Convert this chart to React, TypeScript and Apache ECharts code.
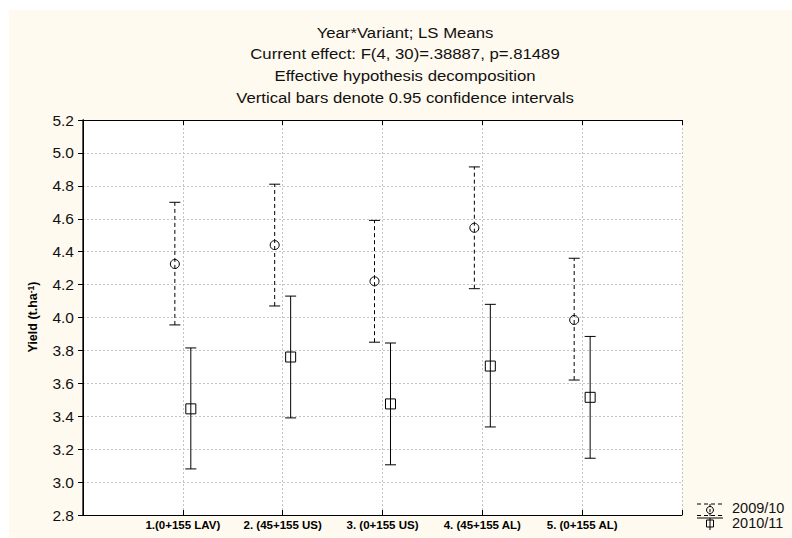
import React, { useEffect, useRef } from "react";
import * as echarts from "echarts";

const categories = ["1.(0+155 LAV)", "2. (45+155 US)", "3. (0+155 US)", "4. (45+155 AL)", "5. (0+155 AL)"];
const yTicks = [2.8, 5.2, 0.2]; // min, max, step
const s1Name = "2009/10";
const s1Mean = [4.325, 4.44, 4.22, 4.545, 3.985];
const s1Low = [3.955, 4.07, 3.85, 4.175, 3.62];
const s1High = [4.7, 4.81, 4.59, 4.915, 4.36];
const s2Name = "2010/11";
const s2Mean = [3.445, 3.76, 3.475, 3.705, 3.515];
const s2Low = [3.08, 3.39, 3.105, 3.335, 3.145];
const s2High = [3.815, 4.13, 3.845, 4.08, 3.885];
const titleLines = [
  "Year*Variant; LS Means",
  "Current effect: F(4, 30)=.38887, p=.81489",
  "Effective hypothesis decomposition",
  "Vertical bars denote 0.95 confidence intervals",
];

const FONT = "'Liberation Sans', Arial, sans-serif";
const OFFSET = 0.08;

function errorSeries(name: string, low: number[], high: number[], off: number, dashed: boolean) {
  return {
    type: "custom",
    name,
    z: 2,
    data: low.map((l, i) => [i + 1 + off, l, high[i]]),
    renderItem: (params: any, api: any) => {
      const x = api.value(0);
      const p1 = api.coord([x, api.value(1)]);
      const p2 = api.coord([x, api.value(2)]);
      const hw = 5.5;
      return {
        type: "group",
        children: [
          {
            type: "line",
            shape: { x1: p1[0], y1: p1[1], x2: p2[0], y2: p2[1] },
            style: { stroke: "#000", lineWidth: 1, lineDash: dashed ? [4, 3] : null },
          },
          { type: "line", shape: { x1: p1[0] - hw, y1: p1[1], x2: p1[0] + hw, y2: p1[1] }, style: { stroke: "#000", lineWidth: 1 } },
          { type: "line", shape: { x1: p2[0] - hw, y1: p2[1], x2: p2[0] + hw, y2: p2[1] }, style: { stroke: "#000", lineWidth: 1 } },
        ],
      };
    },
  };
}

function markerSeries(name: string, mean: number[], off: number, symbol: string, size: number) {
  return {
    type: "scatter",
    name,
    z: 3,
    symbol,
    symbolSize: size,
    data: mean.map((m, i) => [i + 1 + off, m]),
    itemStyle: { color: "rgba(255,255,255,0)", borderColor: "#000", borderWidth: 1, opacity: 1 },
  };
}

export default function App() {
  const ref = useRef<HTMLDivElement>(null);
  useEffect(() => {
    if (!ref.current) return;
    const chart = echarts.init(ref.current, undefined, { renderer: "svg" });
    const gridLine = { show: true, lineStyle: { color: "#c4c4c4", type: [2, 2] as any, width: 1 } };
    const axisLine = { show: true, lineStyle: { color: "#000", width: 1 } };
    const xBase = { type: "value", min: 0, max: 6, interval: 1 };
    const yBase = { type: "value", min: yTicks[0], max: yTicks[1], interval: yTicks[2] };
    chart.setOption({
      animation: false,
      backgroundColor: "#fffaef",
      textStyle: { fontFamily: FONT },
      grid: { left: 74, right: 110, top: 110, bottom: 23, show: true, backgroundColor: "#fff", borderWidth: 0 },
      xAxis: [
        {
          ...xBase,
          position: "bottom",
          axisLine,
          axisTick: { show: true, inside: true, length: 5, lineStyle: { color: "#000" } },
          axisLabel: {
            margin: 4,
            fontSize: 11.5,
            fontWeight: "bold",
            color: "#000",
            fontFamily: FONT,
            formatter: (v: number) => categories[Math.round(v) - 1] ?? "",
          },
          splitLine: gridLine,
        },
        {
          ...xBase,
          position: "top",
          axisLine,
          axisTick: { show: true, inside: true, length: 5, lineStyle: { color: "#000" } },
          axisLabel: { show: false },
          splitLine: { show: false },
        },
      ],
      yAxis: [
        {
          ...yBase,
          position: "left",
          axisLine: { show: true, lineStyle: { color: "#222", width: 1.5 } },
          axisTick: { show: true, inside: false, length: 5, lineStyle: { color: "#000" } },
          axisLabel: {
            margin: 9,
            fontSize: 15.5,
            color: "#111",
            fontFamily: FONT,
            formatter: (v: number) => v.toFixed(1),
          },
          splitLine: gridLine,
        },
        {
          ...yBase,
          position: "right",
          axisLine,
          axisTick: { show: true, inside: true, length: 5, lineStyle: { color: "#000" } },
          axisLabel: { show: false },
          splitLine: { show: false },
        },
      ],
      series: [
        errorSeries(s1Name, s1Low, s1High, -OFFSET, true),
        errorSeries(s2Name, s2Low, s2High, OFFSET, false),
        markerSeries(s1Name, s1Mean, -OFFSET, "circle", 9),
        markerSeries(s2Name, s2Mean, OFFSET, "rect", 10),
      ],
      graphic: [
        {
          type: "text",
          x: 396,
          y: 11,
          scaleX: 1.08,
          style: {
            text: titleLines.join("\n"),
            fontSize: 15.5,
            lineHeight: 21.7,
            fill: "#111",
            fontFamily: FONT,
            align: "center",
            verticalAlign: "top",
          },
        },
        {
          type: "text",
          x: 24,
          y: 307,
          rotation: Math.PI / 2,
          style: {
            text: "{a|Yield (t.ha}{s|-1}{a|)}",
            align: "center",
            verticalAlign: "middle",
            fill: "#000",
            rich: {
              a: { fontSize: 12.5, fontWeight: "bold", fontFamily: FONT, fill: "#000" },
              s: { fontSize: 8.5, fontWeight: "bold", fontFamily: FONT, fill: "#000", verticalAlign: "top" },
            },
          },
        },
        // legend item 1 (dashed bar, circle)
        { type: "line", shape: { x1: 688, y1: 494, x2: 714, y2: 494 }, style: { stroke: "#000", lineWidth: 1, lineDash: [4, 3] } },
        { type: "line", shape: { x1: 701, y1: 494, x2: 701, y2: 506 }, style: { stroke: "#000", lineWidth: 1, lineDash: [3, 2] } },
        { type: "line", shape: { x1: 688, y1: 505.5, x2: 714, y2: 505.5 }, style: { stroke: "#000", lineWidth: 1, lineDash: [4, 3] } },
        { type: "circle", shape: { cx: 701, cy: 500, r: 3.5 }, style: { stroke: "#000", fill: "none", lineWidth: 1 } },
        { type: "text", x: 723, y: 497.5, style: { text: s1Name, fontSize: 14.5, fill: "#111", fontFamily: FONT, verticalAlign: "middle" } },
        // legend item 2 (solid bar, square)
        { type: "line", shape: { x1: 688, y1: 508, x2: 714, y2: 508 }, style: { stroke: "#000", lineWidth: 1 } },
        { type: "line", shape: { x1: 701, y1: 508, x2: 701, y2: 520 }, style: { stroke: "#000", lineWidth: 1 } },
        { type: "rect", shape: { x: 697.5, y: 510, width: 7, height: 7 }, style: { stroke: "#000", fill: "none", lineWidth: 1 } },
        { type: "text", x: 723, y: 512.5, style: { text: s2Name, fontSize: 14.5, fill: "#111", fontFamily: FONT, verticalAlign: "middle" } },
      ],
    });
    return () => chart.dispose();
  }, []);
  return (
    <div
      ref={ref}
      style={{ position: "fixed", left: 9, top: 10, width: 783, height: 528 }}
    />
  );
}
